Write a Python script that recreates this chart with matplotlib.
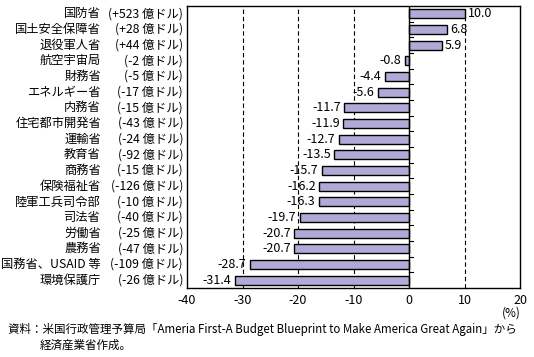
import matplotlib
matplotlib.use("Agg")
import matplotlib.pyplot as plt

plt.rcParams['font.family'] = ['Noto Sans CJK JP', 'DejaVu Sans']

names = ["国防省", "国土安全保障省", "退役軍人省", "航空宇宙局", "財務省", "エネルギー省",
         "内務省", "住宅都市開発省", "運輸省", "教育省", "商務省", "保険福祉省",
         "陸軍工兵司令部", "司法省", "労働省", "農務省", "国務省、USAID 等", "環境保護庁"]
amounts = ["(+523 億ドル)", "(+28 億ドル)", "(+44 億ドル)", "(-2 億ドル)", "(-5 億ドル)",
           "(-17 億ドル)", "(-15 億ドル)", "(-43 億ドル)", "(-24 億ドル)", "(-92 億ドル)",
           "(-15 億ドル)", "(-126 億ドル)", "(-10 億ドル)", "(-40 億ドル)", "(-25 億ドル)",
           "(-47 億ドル)", "(-109 億ドル)", "(-26 億ドル)"]
values = [10.0, 6.8, 5.9, -0.8, -4.4, -5.6, -11.7, -11.9, -12.7, -13.5, -15.7,
          -16.2, -16.3, -19.7, -20.7, -20.7, -28.7, -31.4]
xticks = [-40, -30, -20, -10, 0, 10, 20]

W, H = 534, 357
fig = plt.figure(figsize=(W / 100, H / 100), dpi=100)
ax = fig.add_axes([187 / W, 69 / H, (520 - 187) / W, (288 - 6) / H])

n = len(values)
ys = list(range(n))
ax.barh(ys, values, height=0.56, color='#b1a9d6', edgecolor='black', linewidth=1.0, zorder=3)

ax.set_xlim(-40, 20)
ax.set_ylim(n - 0.5, -0.5)
ax.set_xticks(xticks)
ax.set_xticklabels([str(t) for t in xticks], fontsize=9)
ax.tick_params(axis='x', length=0, pad=4)
ax.set_yticks([])
for t in [-30, -20, -10, 10]:
    ax.axvline(t, color='black', linestyle=(0, (4, 2.5)), linewidth=0.8, zorder=1)
ax.axvline(0, color='black', linewidth=1.0, zorder=4)
for b in range(1, n):
    ax.plot([0, 0.7], [b - 0.5, b - 0.5], color='black', linewidth=0.8, zorder=4)
for s in ax.spines.values():
    s.set_linewidth(1.0)

for y, v in zip(ys, values):
    if v >= 0:
        ax.text(v + 0.6, y, f"{v:.1f}", va='center', ha='left', fontsize=9, zorder=5)
    else:
        ax.text(v - 0.6, y, f"{v:.1f}", va='center', ha='right', fontsize=9, zorder=5)

aw = 520 - 187
trans = ax.get_yaxis_transform()
for y, nm, am in zip(ys, names, amounts):
    ax.text((101 - 187) / aw, y, nm, transform=trans, ha='right', va='center', fontsize=8.8)
    ax.text((183 - 187) / aw, y, am, transform=trans, ha='right', va='center', fontsize=8.8)

fig.text(521 / W, 1 - 313 / H, "(%)", ha='right', va='center', fontsize=8.5)
fig.text(8 / W, 1 - 329 / H,
         "資料：米国行政管理予算局「Ameria First-A Budget Blueprint to Make America Great Again」から",
         ha='left', va='center', fontsize=8.3)
fig.text(40 / W, 1 - 345 / H, "経済産業省作成。", ha='left', va='center', fontsize=8.3)

fig.savefig("out.png", dpi=100)
